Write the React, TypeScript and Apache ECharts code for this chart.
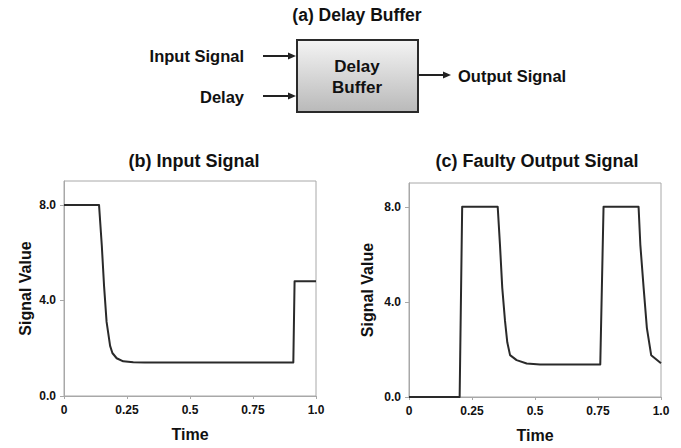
import React, { useEffect, useRef } from "react";
import * as echarts from "echarts";

// (b) input signal: time / value samples
const inputTime = [0, 0.139, 0.15, 0.159, 0.169, 0.183, 0.192, 0.209, 0.235, 0.275, 0.32, 0.91, 0.915, 1.0];
const inputValue = [8, 8, 6.3, 4.6, 3.1, 2.1, 1.8, 1.58, 1.45, 1.41, 1.4, 1.4, 4.8, 4.8];

// (c) faulty output signal: time / value samples
const outputTime = [
  0, 0.201, 0.211, 0.352, 0.361, 0.37, 0.381, 0.39, 0.401, 0.427, 0.467, 0.52,
  0.759, 0.772, 0.911, 0.918, 0.931, 0.944, 0.961, 1.0,
];
const outputValue = [
  0, 0, 8, 8, 6.4, 4.6, 3.2, 2.3, 1.76, 1.55, 1.41, 1.37,
  1.37, 8, 8, 6.4, 4.6, 2.9, 1.76, 1.42,
];

const xTicks = [0, 0.25, 0.5, 0.75, 1];
const xTickLabels = ["0", "0.25", "0.5", "0.75", "1.0"];
const yTicks = [0, 4, 8];
const yTickLabels = ["0.0", "4.0", "8.0"];

const FONT = "'Liberation Sans', Arial, Helvetica, sans-serif";
const AXIS_GRAY = "#a8a8a8";
const TEXT = "#111";
const LINE = "#2a2a2a";

function xAxisFor(gridIndex: number) {
  return {
    type: "value",
    gridIndex,
    min: 0,
    max: 1,
    name: "Time",
    nameLocation: "middle",
    nameGap: 30,
    nameTextStyle: { fontFamily: FONT, fontWeight: "bold", fontSize: 16, color: TEXT },
    axisLine: { show: true, lineStyle: { color: AXIS_GRAY, width: 1 } },
    axisTick: { show: true, length: 3, customValues: xTicks, lineStyle: { color: AXIS_GRAY } },
    axisLabel: {
      customValues: xTicks,
      margin: 8,
      fontFamily: FONT,
      fontWeight: "bold",
      fontSize: 12,
      color: TEXT,
      formatter: (v: number) => xTickLabels[xTicks.indexOf(v)] ?? "",
    },
    splitLine: { show: false },
  };
}

function yAxisFor(gridIndex: number, nameGap: number) {
  return {
    type: "value",
    gridIndex,
    min: 0,
    max: 9,
    name: "Signal Value",
    nameLocation: "middle",
    nameGap,
    nameTextStyle: { fontFamily: FONT, fontWeight: "bold", fontSize: 16, color: TEXT },
    axisLine: { show: true, lineStyle: { color: AXIS_GRAY, width: 1 } },
    axisTick: { show: true, length: 4, customValues: yTicks, lineStyle: { color: AXIS_GRAY } },
    axisLabel: {
      customValues: yTicks,
      margin: 8,
      fontFamily: FONT,
      fontWeight: "bold",
      fontSize: 12,
      color: TEXT,
      formatter: (v: number) => yTickLabels[yTicks.indexOf(v)] ?? "",
    },
    splitLine: { show: false },
  };
}

function pairs(t: number[], v: number[]) {
  return t.map((x, i) => [x, v[i]]);
}

function arrow(x1: number, x2: number, y: number) {
  return {
    type: "group",
    children: [
      { type: "line", shape: { x1, y1: y, x2: x2 - 6, y2: y }, style: { stroke: "#222", lineWidth: 2 } },
      {
        type: "polygon",
        shape: { points: [[x2 - 8, y - 3.5], [x2, y], [x2 - 8, y + 3.5]] },
        style: { fill: "#222" },
      },
    ],
  };
}

const labelStyle = { fontFamily: FONT, fontWeight: "bold", fontSize: 17, fill: TEXT };

export default function App() {
  const ref = useRef<HTMLDivElement>(null);

  useEffect(() => {
    if (!ref.current) return;
    const chart = echarts.init(ref.current, undefined, { renderer: "svg" });
    chart.setOption({
      animation: false,
      backgroundColor: "#fff",
      title: [
        {
          text: "(b) Input Signal",
          left: 189,
          top: 147,
          textAlign: "center",
          textStyle: { fontFamily: FONT, fontWeight: "bold", fontSize: 18, color: TEXT },
        },
        {
          text: "(c) Faulty Output Signal",
          left: 532,
          top: 147,
          textAlign: "center",
          textStyle: { fontFamily: FONT, fontWeight: "bold", fontSize: 18, color: TEXT },
        },
      ],
      grid: [
        { left: 64, right: 365, top: 181, bottom: 52, show: true, borderColor: AXIS_GRAY, borderWidth: 1, backgroundColor: "transparent" },
        { left: 409, right: 20, top: 183, bottom: 51, show: true, borderColor: AXIS_GRAY, borderWidth: 1, backgroundColor: "transparent" },
      ],
      xAxis: [xAxisFor(0), xAxisFor(1)],
      yAxis: [yAxisFor(0, 31), yAxisFor(1, 34)],
      series: [
        {
          type: "line",
          xAxisIndex: 0,
          yAxisIndex: 0,
          data: pairs(inputTime, inputValue),
          showSymbol: false,
          lineStyle: { color: LINE, width: 2, join: "round" },
        },
        {
          type: "line",
          xAxisIndex: 1,
          yAxisIndex: 1,
          data: pairs(outputTime, outputValue),
          showSymbol: false,
          lineStyle: { color: LINE, width: 2, join: "round" },
        },
      ],
      graphic: [
        {
          type: "text",
          x: 357,
          y: 15,
          style: { ...labelStyle, text: "(a) Delay Buffer", fontSize: 17.5, align: "center", verticalAlign: "middle" },
        },
        {
          type: "rect",
          shape: { x: 297, y: 40, width: 121, height: 72 },
          style: {
            fill: new echarts.graphic.LinearGradient(0, 0, 0, 1, [
              { offset: 0, color: "#f4f4f4" },
              { offset: 1, color: "#b9b9b9" },
            ]),
            stroke: "#2a2a2a",
            lineWidth: 2,
          },
        },
        {
          type: "text",
          x: 357,
          y: 66,
          style: { ...labelStyle, text: "Delay", align: "center", verticalAlign: "middle" },
        },
        {
          type: "text",
          x: 357,
          y: 87,
          style: { ...labelStyle, text: "Buffer", align: "center", verticalAlign: "middle" },
        },
        {
          type: "text",
          x: 244,
          y: 56,
          style: { ...labelStyle, fontSize: 16.5, text: "Input Signal", align: "right", verticalAlign: "middle" },
        },
        {
          type: "text",
          x: 244,
          y: 97,
          style: { ...labelStyle, fontSize: 16.5, text: "Delay", align: "right", verticalAlign: "middle" },
        },
        {
          type: "text",
          x: 458,
          y: 76,
          style: { ...labelStyle, fontSize: 16.5, text: "Output Signal", align: "left", verticalAlign: "middle" },
        },
        arrow(263, 296, 56),
        arrow(263, 296, 96),
        arrow(418, 451, 75),
      ],
    });
    return () => chart.dispose();
  }, []);

  return (
    <div
      ref={ref}
      style={{ position: "absolute", left: 0, top: 0, width: 681, height: 448 }}
    />
  );
}
